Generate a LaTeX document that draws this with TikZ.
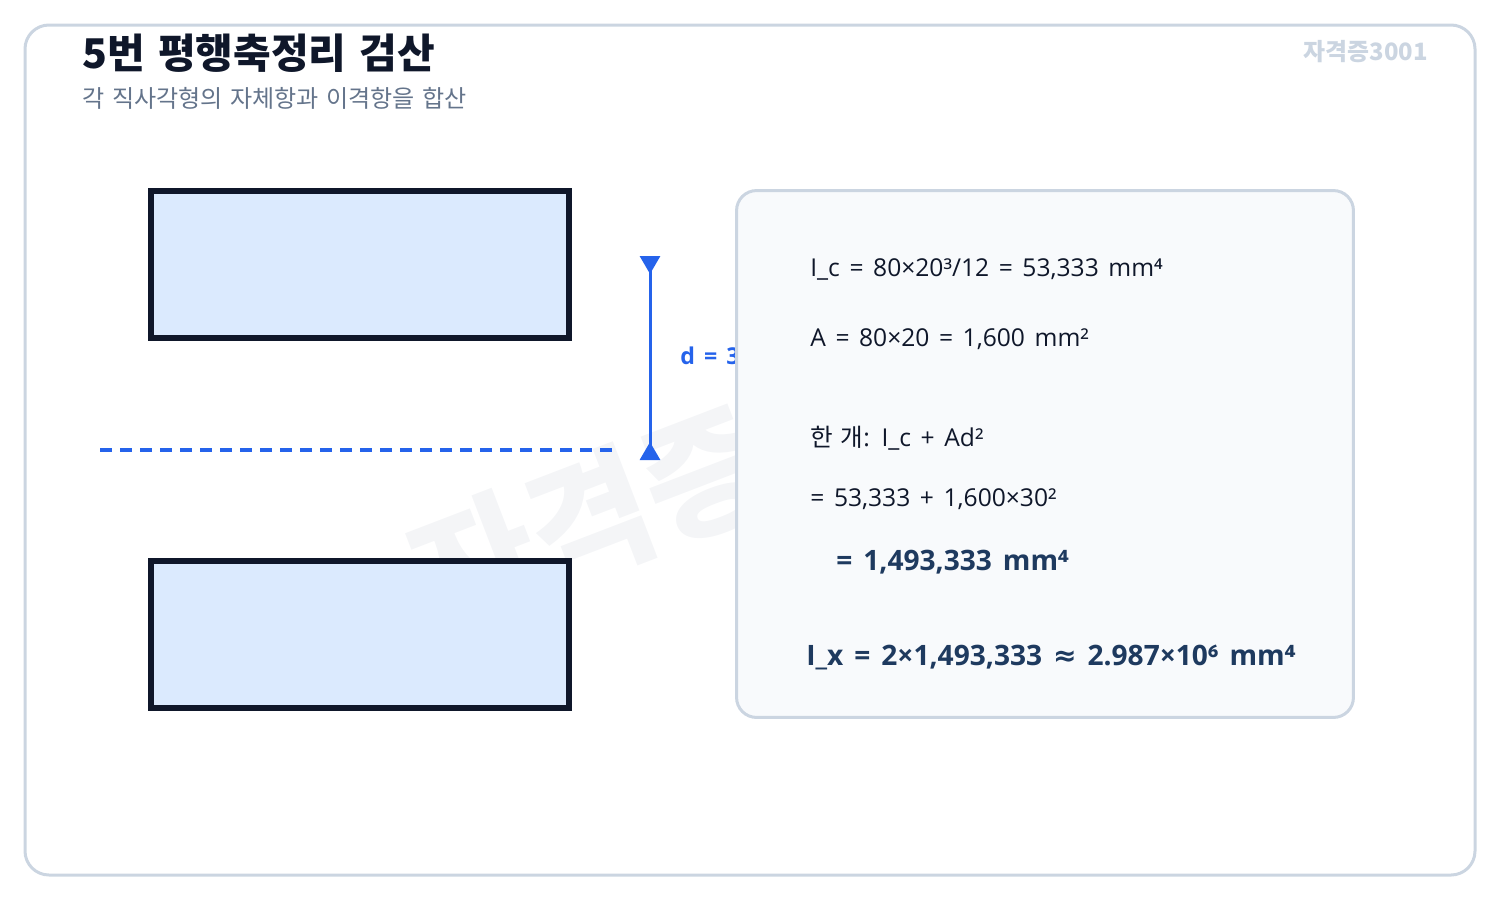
\documentclass[tikz,border=0pt]{standalone}
\usepackage{fontspec}
\setmainfont{Open Sans}[WordSpace=1.5]
\newfontfamily\kr{Noto Sans CJK KR}[WordSpace=1.4]
\newfontfamily\sym{DejaVu Sans}
\usetikzlibrary{arrows.meta, positioning, calc}
\definecolor{ink}{HTML}{0F172A}
\definecolor{slate}{HTML}{64748B}
\definecolor{frame}{HTML}{CBD5E1}
\definecolor{flangefill}{HTML}{DBEAFE}
\definecolor{axisblue}{HTML}{2563EB}
\definecolor{panelfill}{HTML}{F8FAFC}
\definecolor{navy}{HTML}{1E3A5F}
\definecolor{mark}{HTML}{F4F5F7}

\begin{document}
\begin{tikzpicture}[x=0.02cm, y=-0.02cm,
            flange/.style={rectangle, draw=ink, line width=0.12cm, fill=flangefill, minimum width=8.36cm, minimum height=2.94cm},
            panel/.style={rectangle, rounded corners=0.4cm, draw=frame, line width=0.06cm, fill=panelfill, minimum width=12.34cm, minimum height=10.54cm},
            calcline/.style={anchor=base west, inner sep=0pt, text=ink, font=\fontsize{14}{16}\selectfont},
            result/.style={anchor=base west, inner sep=0pt, text=navy, font=\fontsize{16}{18}\selectfont\bfseries}
        ]

        \useasboundingbox (0,0) rectangle (1500,900);
        \draw[frame, line width=0.06cm, rounded corners=0.48cm] (25,25) rectangle (1475,875);

        \node[anchor=base west, inner sep=0pt, text=ink, font=\kr\fontsize{23.3}{26}\selectfont\bfseries] (title) at (82,68) {5번 평행축정리 검산};
        \node[anchor=base west, inner sep=0pt, text=slate, font=\kr\fontsize{13.7}{16}\selectfont] (subtitle) at (82,107) {각 직사각형의 자체항과 이격항을 합산};
        \node[anchor=base east, inner sep=0pt, text=frame, font=\kr\fontsize{13.6}{15}\selectfont\bfseries] (tag) at (1428,60) {자격증3001};

        \node[rotate=21, text=mark, font=\kr\fontsize{76}{80}\selectfont\bfseries] (watermark) at (590,518) {자격증};

        \node[flange] (topflange) at (360,264.5) {};
        \node[flange] (botflange) at (360,634.5) {};

        \coordinate (axisL) at (100,450);
        \coordinate (axisR) at (612,450);
        \draw[axisblue, line width=0.08cm, dash pattern=on 0.24cm off 0.16cm] (axisL) -- (axisR);

        \coordinate (dtop) at (650,256);
        \coordinate (dbot) at (650,460);
        \draw[axisblue, line width=0.06cm, {Triangle[reversed, length=0.36cm, width=0.4cm]}-{Triangle[reversed, length=0.36cm, width=0.4cm]}] (dtop) -- (dbot);
        \node[anchor=base west, inner sep=0pt, text=axisblue, font=\fontsize{13.2}{15}\selectfont\bfseries] (dlabel) at (680,364) {d = 3};

        \node[panel] (calc) at (1045,454) {};

        \node[calcline] (ic) at (810,276) {I\_c = 80×20³/12 = 53,333 mm⁴};
        \node[calcline] (area) at (810,346) {A = 80×20 = 1,600 mm²};
        \node[calcline] (one) at (810,446) {{\kr 한 개}: I\_c + Ad²};
        \node[calcline] (sum) at (810,506) {= 53,333 + 1,600×30²};
        \node[result] (total) at (836,570) {= 1,493,333 mm⁴};
        \node[result] (ix) at (806,665) {I\_x = 2×1,493,333 {\sym\bfseries ≈} 2.987×10⁶ mm⁴};

    \end{tikzpicture}
\end{document}
